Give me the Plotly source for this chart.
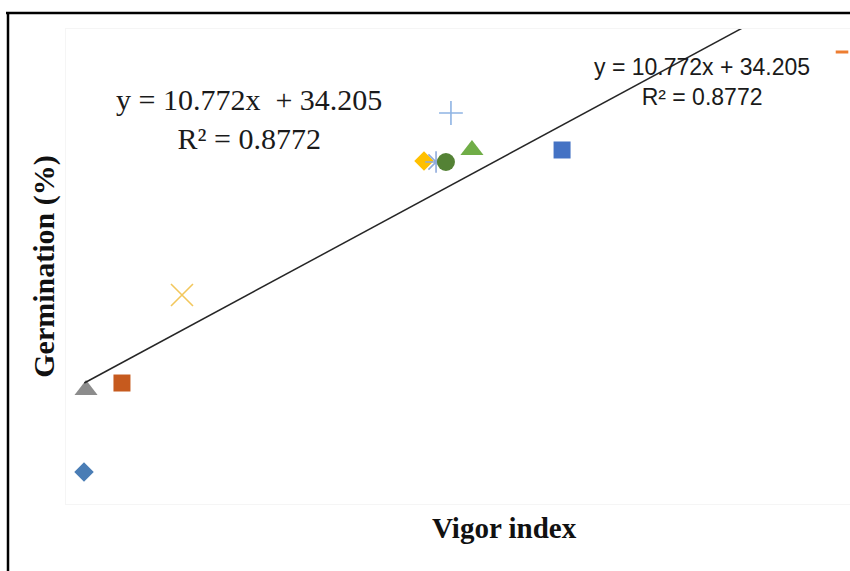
import plotly.graph_objects as go

# Data (vigor index, germination %)
names = ["T1", "T2", "T3", "T4", "T5", "T6", "T7", "T8", "T9", "T10", "T11"]
vigor = [1.263, 1.278, 1.543, 1.986, 3.772, 3.861, 3.934, 4.126, 3.971, 4.791, 6.857]
germ = [34.72, 46.80, 47.83, 60.80, 80.55, 80.40, 80.40, 82.17, 87.62, 82.17, 96.61]
symbols = ["diamond", "triangle-up", "square", "x-thin-open", "diamond", "asterisk-open",
           "circle", "triangle-up", "cross-thin-open", "square", "line-ew"]
colors = ["#4A7DB5", "#8C8C8C", "#C65A1E", "#F2C75C", "#FFC000", "#8FAADC",
          "#548235", "#70AD47", "#8FB4E3", "#4472C4", "#ED7D31"]
sizes = [15, 20, 17, 22, 15, 18, 18, 20, 17, 17, 9]

slope = 10.772
intercept = 34.205
trend_x = [1.265, 6.134]
trend_y = [slope * v + intercept for v in trend_x]

fig = go.Figure()
for n, xv, yv, s, c, sz in zip(names, vigor, germ, symbols, colors, sizes):
    open_sym = s.endswith("open") or s == "line-ew"
    fig.add_trace(go.Scatter(
        x=[xv], y=[yv], mode="markers", name=n,
        marker=dict(symbol=s, size=sz, color=c,
                    line=dict(color=c, width=3 if s == "line-ew" else (1.6 if open_sym else 0))),
    ))

fig.add_trace(go.Scatter(x=trend_x, y=trend_y, mode="lines", name="Trend",
                         line=dict(color="#262626", width=1.5)))

eq1 = f"y = {slope}x  + {intercept}<br>R² = 0.8772"
eq2 = f"y = {slope}x + {intercept}<br>R² = 0.8772"

fig.update_layout(
    width=850, height=571,
    margin=dict(l=66, r=0, t=29, b=67),
    paper_bgcolor="white", plot_bgcolor="white",
    showlegend=False,
    xaxis=dict(range=[1.13, 6.916], showticklabels=False, ticks="", showgrid=False,
               zeroline=False, showline=True, mirror=True, linecolor="#f5f5f5"),
    yaxis=dict(range=[30, 100], showticklabels=False, ticks="", showgrid=False,
               zeroline=False, showline=True, mirror=True, linecolor="#f5f5f5",
               title=dict(text="<b>Germination (%)</b>",
                          font=dict(family="Liberation Serif", size=30, color="#111"),
                          standoff=1)),
    annotations=[
        dict(text="<b>Vigor index</b>", x=(504 - 66) / 784, y=(504 - 528) / 475,
             xref="paper", yref="paper", xanchor="center", yanchor="middle",
             showarrow=False,
             font=dict(family="Liberation Serif", size=29, color="#111")),
        dict(text=eq1, x=(249 - 66) / 784, y=(504 - 119) / 475, xref="paper", yref="paper",
             xanchor="center", yanchor="middle",
             showarrow=False, align="center",
             font=dict(family="Liberation Serif", size=30, color="#1a1a1a")),
        dict(text=eq2, x=(702 - 66) / 784, y=(504 - 82) / 475, xref="paper", yref="paper",
             xanchor="center", yanchor="middle",
             showarrow=False, align="center",
             font=dict(family="Liberation Sans", size=23, color="#1a1a1a")),
    ],
    shapes=[
        dict(type="line", xref="paper", yref="paper", x0=(6 - 66) / 784, x1=1.01,
             y0=(504 - 13) / 475, y1=(504 - 13) / 475, line=dict(color="black", width=2.5)),
        dict(type="line", xref="paper", yref="paper", x0=(8 - 66) / 784, x1=(8 - 66) / 784,
             y0=(504 - 12) / 475, y1=-0.2, line=dict(color="black", width=2.5)),
    ],
)

fig.write_html("out.html", config={"displayModeBar": False},
               post_script="document.body.style.margin='0';")
